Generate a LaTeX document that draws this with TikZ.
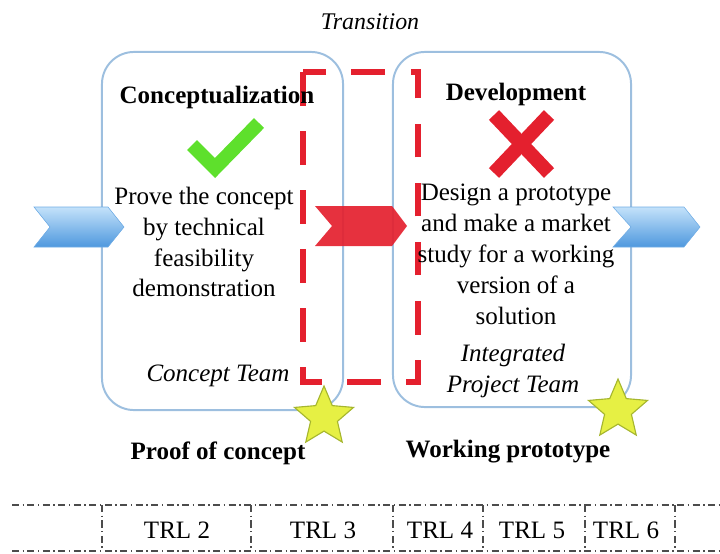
\documentclass[tikz,border=0pt]{standalone}
\usepackage{fontspec}
\setmainfont{Liberation Serif}
\usepackage{tikz}
\usetikzlibrary{shapes.geometric}
\definecolor{boxblue}{HTML}{9DBFDF}
\definecolor{chevlight}{HTML}{C4E2FA}
\definecolor{chevdark}{HTML}{4E98DE}
\definecolor{tickgreen}{HTML}{5EE02C}
\definecolor{crossred}{HTML}{E4202E}
\definecolor{starfill}{HTML}{E6F044}
\definecolor{starline}{HTML}{A6B62E}
\tikzstyle{stagebox} = [rectangle, rounded corners=0.8cm, draw=boxblue,
line width=1.4pt]
\tikzstyle{headtext} = [font=\fontsize{17.8}{22}\selectfont\bfseries]
\tikzstyle{bodytext} = [font=\fontsize{17.8}{22}\selectfont, align=center,
inner sep=0pt]
\tikzstyle{teamtext} = [font=\fontsize{17.8}{21.5}\selectfont\itshape,
align=center, inner sep=0pt]
\tikzstyle{trltext} = [font=\fontsize{17.8}{22}\selectfont]
\tikzstyle{goldstar} = [star, star points=5, star point ratio=2.2,
minimum size=1.55cm, inner sep=0pt, fill=starfill, draw=starline,
line width=0.8pt]
\tikzstyle{transline} = [draw=crossred, line width=4.3pt,
dash pattern=on 24pt off 18pt]
\tikzstyle{trlline} = [draw=black!70, line width=1.1pt,
dash pattern=on 5pt off 2.5pt on 1pt off 2.5pt]

\begin{document}
\begin{tikzpicture}[x=0.025cm, y=-0.025cm]
\useasboundingbox (0,0) rectangle (720,553);

% stages
\node(concept)[stagebox, minimum width=6.025cm, minimum height=8.95cm]
at (222.5,231){};
\node(develop)[stagebox, minimum width=5.95cm, minimum height=8.875cm]
at (512,229.5){};

% transition zone
\draw[transline] (303,72) rectangle (418,382);

% chevrons
\draw[top color=chevlight, bottom color=chevdark, draw=chevdark!80]
(34,207) -- (108,207) -- (124,227) -- (108,247) -- (34,247) -- (50,227)
-- cycle;
\draw[top color=chevlight, bottom color=chevdark, draw=chevdark!80]
(613,207) -- (684,207) -- (700,227) -- (684,247) -- (613,247) -- (631,227)
-- cycle;
\fill[crossred, opacity=0.92]
(315,206) -- (392,206) -- (407,226) -- (392,246) -- (315,246) -- (332,226)
-- cycle;

% marks
\draw[tickgreen, line width=10pt] (192,145) -- (215,168) -- (259,123);
\draw[crossred, line width=10pt] (494,115) -- (549,173);
\draw[crossred, line width=10pt] (549,115) -- (494,173);

% texts
\node(title)[font=\fontsize{17}{20}\selectfont\itshape] at (370,22){Transition};
\node(concepthead)[headtext] at (217,97){Conceptualization};
\node(develophead)[headtext] at (516,94){Development};
\node(conceptbody)[bodytext] at (204,242){Prove the concept\\by technical\\
feasibility\\demonstration};
\node(developbody)[bodytext] at (516,254){Design a prototype\\and make a market\\
study for a working\\version of a\\solution};
\node(conceptteam)[teamtext] at (218,376){Concept Team};
\node(developteam)[teamtext] at (513,371){Integrated\\Project Team};

% milestones
\node(proofstar)[goldstar] at (324,417){};
\node(protostar)[goldstar] at (618,410){};
\node(proof)[headtext] at (218,453){Proof of concept};
\node(proto)[headtext] at (508,452){Working prototype};

% TRL scale
\draw[trlline] (12,505) -- (720,505);
\draw[trlline] (12,551) -- (720,551);
\foreach \xs in {102,251,393,483,585,675}
  \draw[trlline] (\xs,505) -- (\xs,551);
\node(trltwo)[trltext] at (177,530){TRL 2};
\node(trlthree)[trltext] at (323,530){TRL 3};
\node(trlfour)[trltext] at (440,530){TRL 4};
\node(trlfive)[trltext] at (532,530){TRL 5};
\node(trlsix)[trltext] at (626,530){TRL 6};

\end{tikzpicture}
\end{document}
